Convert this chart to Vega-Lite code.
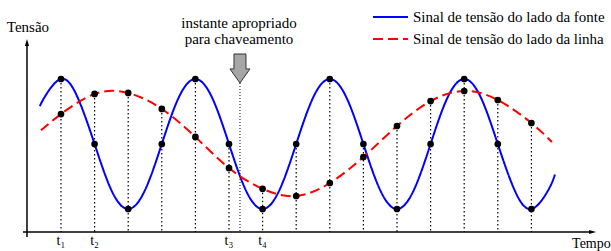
{
  "$schema": "https://vega.github.io/schema/vega-lite/v6.json",
  "width": 611,
  "height": 251,
  "padding": 0,
  "autosize": {"type": "none"},
  "background": "white",
  "config": {"view": {"stroke": null}, "font": "Liberation Serif", "text": {"font": "Liberation Serif", "fontSize": 15, "color": "black"}},
  "datasets": {
    "samples": [
      {"t": 0, "fonte": 1, "linha": 0.46},
      {"t": 1, "fonte": 0, "linha": 0.77},
      {"t": 2, "fonte": -1, "linha": 0.785},
      {"t": 3, "fonte": 0, "linha": 0.54},
      {"t": 4, "fonte": 1, "linha": 0.108},
      {"t": 5, "fonte": 0, "linha": -0.37},
      {"t": 6, "fonte": -1, "linha": -0.69},
      {"t": 7, "fonte": 0, "linha": -0.8},
      {"t": 8, "fonte": 1, "linha": -0.6},
      {"t": 9, "fonte": 0, "linha": -0.2},
      {"t": 10, "fonte": -1, "linha": 0.277},
      {"t": 11, "fonte": 0, "linha": 0.66},
      {"t": 12, "fonte": 1, "linha": 0.815},
      {"t": 13, "fonte": 0, "linha": 0.677},
      {"t": 14, "fonte": -1, "linha": 0.323}
    ],
    "curves": [
      {"serie": "fonte", "t": -0.625, "v": 0.58},
      {"serie": "fonte", "t": -0.5, "v": 0.71},
      {"serie": "fonte", "t": 0, "v": 1},
      {"serie": "fonte", "t": 0.5, "v": 0.71},
      {"serie": "fonte", "t": 1, "v": 0},
      {"serie": "fonte", "t": 1.5, "v": -0.71},
      {"serie": "fonte", "t": 2, "v": -1},
      {"serie": "fonte", "t": 2.5, "v": -0.71},
      {"serie": "fonte", "t": 3, "v": 0},
      {"serie": "fonte", "t": 3.5, "v": 0.71},
      {"serie": "fonte", "t": 4, "v": 1},
      {"serie": "fonte", "t": 4.5, "v": 0.71},
      {"serie": "fonte", "t": 5, "v": 0},
      {"serie": "fonte", "t": 5.5, "v": -0.71},
      {"serie": "fonte", "t": 6, "v": -1},
      {"serie": "fonte", "t": 6.5, "v": -0.71},
      {"serie": "fonte", "t": 7, "v": 0},
      {"serie": "fonte", "t": 7.5, "v": 0.71},
      {"serie": "fonte", "t": 8, "v": 1},
      {"serie": "fonte", "t": 8.5, "v": 0.71},
      {"serie": "fonte", "t": 9, "v": 0},
      {"serie": "fonte", "t": 9.5, "v": -0.71},
      {"serie": "fonte", "t": 10, "v": -1},
      {"serie": "fonte", "t": 10.5, "v": -0.71},
      {"serie": "fonte", "t": 11, "v": 0},
      {"serie": "fonte", "t": 11.5, "v": 0.71},
      {"serie": "fonte", "t": 12, "v": 1},
      {"serie": "fonte", "t": 12.5, "v": 0.71},
      {"serie": "fonte", "t": 13, "v": 0},
      {"serie": "fonte", "t": 13.5, "v": -0.71},
      {"serie": "fonte", "t": 14, "v": -1},
      {"serie": "fonte", "t": 14.5, "v": -0.71},
      {"serie": "fonte", "t": 14.7, "v": -0.47},
      {"serie": "linha", "t": -0.595, "v": 0.21},
      {"serie": "linha", "t": 0, "v": 0.46},
      {"serie": "linha", "t": 1, "v": 0.77},
      {"serie": "linha", "t": 2, "v": 0.785},
      {"serie": "linha", "t": 3, "v": 0.54},
      {"serie": "linha", "t": 4, "v": 0.108},
      {"serie": "linha", "t": 5, "v": -0.37},
      {"serie": "linha", "t": 6, "v": -0.69},
      {"serie": "linha", "t": 7, "v": -0.8},
      {"serie": "linha", "t": 8, "v": -0.6},
      {"serie": "linha", "t": 9, "v": -0.2},
      {"serie": "linha", "t": 10, "v": 0.277},
      {"serie": "linha", "t": 11, "v": 0.66},
      {"serie": "linha", "t": 12, "v": 0.815},
      {"serie": "linha", "t": 13, "v": 0.677},
      {"serie": "linha", "t": 14, "v": 0.323},
      {"serie": "linha", "t": 14.61, "v": 0.03}
    ],
    "eixos": [
      {"t1": -1.012, "t2": -1.012, "v1": -1.431, "v2": 1.56},
      {"t1": -1.131, "t2": 15.8, "v1": -1.354, "v2": -1.354}
    ],
    "legenda": [
      {"serie": "fonte", "t1": 9.286, "t2": 10.327, "v": 1.954, "texto": "Sinal de tensão do lado da fonte"},
      {"serie": "linha", "t1": 9.286, "t2": 10.327, "v": 1.615, "texto": "Sinal de tensão do lado da linha"}
    ],
    "centrados": [
      {"t": 5.298, "v": 1.862, "texto": "instante apropriado"},
      {"t": 5.298, "v": 1.615, "texto": "para chaveamento"},
      {"t": -0.982, "v": 1.8, "texto": "Tensão"}
    ],
    "instantes": [
      {"t": 0, "texto": "t₁"},
      {"t": 1, "texto": "t₂"},
      {"t": 5, "texto": "t₃"},
      {"t": 6, "texto": "t₄"}
    ]
  },
  "layer": [
    {
      "data": {"name": "eixos"},
      "mark": {"type": "rule", "color": "black", "strokeWidth": 1.5},
      "encoding": {
        "x": {"field": "t1", "type": "quantitative", "scale": {"domain": [-1.815, 16.369], "nice": false, "zero": false}, "axis": null},
        "x2": {"field": "t2"},
        "y": {"field": "v1", "type": "quantitative", "scale": {"domain": [-1.646, 2.215], "nice": false, "zero": false}, "axis": null},
        "y2": {"field": "v2"}
      }
    },
    {
      "data": {"values": [{"t": -1.012, "v": 1.562}]},
      "mark": {"type": "point", "shape": "M 0 -1 L 0.6 1 L -0.6 1 Z", "size": 49, "filled": true, "color": "black", "opacity": 1},
      "encoding": {
        "x": {"field": "t", "type": "quantitative", "scale": {"domain": [-1.815, 16.369], "nice": false, "zero": false}, "axis": null},
        "y": {"field": "v", "type": "quantitative", "scale": {"domain": [-1.646, 2.215], "nice": false, "zero": false}, "axis": null}
      }
    },
    {
      "data": {"values": [{"t": 15.82, "v": -1.354}]},
      "mark": {"type": "point", "shape": "M 1 0 L -1 0.6 L -1 -0.6 Z", "size": 49, "filled": true, "color": "black", "opacity": 1},
      "encoding": {
        "x": {"field": "t", "type": "quantitative", "scale": {"domain": [-1.815, 16.369], "nice": false, "zero": false}, "axis": null},
        "y": {"field": "v", "type": "quantitative", "scale": {"domain": [-1.646, 2.215], "nice": false, "zero": false}, "axis": null}
      }
    },
    {
      "data": {"name": "samples"},
      "transform": [{"fold": ["fonte", "linha"], "as": ["serie", "v"]}],
      "mark": {"type": "rule", "color": "black", "strokeWidth": 1.2, "strokeDash": [1.5, 2.5]},
      "encoding": {
        "x": {"field": "t", "type": "quantitative", "scale": {"domain": [-1.815, 16.369], "nice": false, "zero": false}, "axis": null},
        "y": {"aggregate": "max", "field": "v", "type": "quantitative", "scale": {"domain": [-1.646, 2.215], "nice": false, "zero": false}, "axis": null},
        "y2": {"datum": -1.354}
      }
    },
    {
      "data": {"values": [{"t": 5.327, "v1": 0.938, "v2": -1.354}]},
      "mark": {"type": "rule", "color": "black", "strokeWidth": 1, "strokeDash": [1, 2]},
      "encoding": {
        "x": {"field": "t", "type": "quantitative", "scale": {"domain": [-1.815, 16.369], "nice": false, "zero": false}, "axis": null},
        "y": {"field": "v1", "type": "quantitative", "scale": {"domain": [-1.646, 2.215], "nice": false, "zero": false}, "axis": null},
        "y2": {"field": "v2"}
      }
    },
    {
      "data": {"name": "curves"},
      "mark": {"type": "line", "interpolate": "natural", "strokeWidth": 2},
      "encoding": {
        "x": {"field": "t", "type": "quantitative", "scale": {"domain": [-1.815, 16.369], "nice": false, "zero": false}, "axis": null},
        "y": {"field": "v", "type": "quantitative", "scale": {"domain": [-1.646, 2.215], "nice": false, "zero": false}, "axis": null},
        "color": {"field": "serie", "type": "nominal", "scale": {"domain": ["fonte", "linha"], "range": ["#0000ff", "#ff0000"]}, "legend": null},
        "strokeDash": {"field": "serie", "type": "nominal", "scale": {"domain": ["fonte", "linha"], "range": [[1, 0], [10, 5]]}, "legend": null}
      }
    },
    {
      "data": {"name": "samples"},
      "transform": [{"fold": ["fonte", "linha"], "as": ["serie", "v"]}],
      "mark": {"type": "circle", "size": 45, "color": "black", "opacity": 1},
      "encoding": {
        "x": {"field": "t", "type": "quantitative", "scale": {"domain": [-1.815, 16.369], "nice": false, "zero": false}, "axis": null},
        "y": {"field": "v", "type": "quantitative", "scale": {"domain": [-1.646, 2.215], "nice": false, "zero": false}, "axis": null}
      }
    },
    {
      "data": {"values": [{"t": 5.327, "v": 1.1615}]},
      "mark": {"type": "point", "shape": "M -0.414 -1 L 0.414 -1 L 0.414 0.03 L 0.69 0.03 L 0 1 L -0.69 0.03 L -0.414 0.03 Z", "size": 841, "filled": true, "fill": "#a6a6a6", "stroke": "#333333", "strokeWidth": 1, "opacity": 1},
      "encoding": {
        "x": {"field": "t", "type": "quantitative", "scale": {"domain": [-1.815, 16.369], "nice": false, "zero": false}, "axis": null},
        "y": {"field": "v", "type": "quantitative", "scale": {"domain": [-1.646, 2.215], "nice": false, "zero": false}, "axis": null}
      }
    },
    {
      "data": {"name": "legenda"},
      "mark": {"type": "rule", "strokeWidth": 2},
      "encoding": {
        "x": {"field": "t1", "type": "quantitative", "scale": {"domain": [-1.815, 16.369], "nice": false, "zero": false}, "axis": null},
        "x2": {"field": "t2"},
        "y": {"field": "v", "type": "quantitative", "scale": {"domain": [-1.646, 2.215], "nice": false, "zero": false}, "axis": null},
        "color": {"field": "serie", "type": "nominal", "scale": {"domain": ["fonte", "linha"], "range": ["#0000ff", "#ff0000"]}, "legend": null},
        "strokeDash": {"field": "serie", "type": "nominal", "scale": {"domain": ["fonte", "linha"], "range": [[1, 0], [10, 5]]}, "legend": null}
      }
    },
    {
      "data": {"name": "legenda"},
      "mark": {"type": "text", "align": "left", "baseline": "middle", "font": "Liberation Serif", "fontSize": 15},
      "encoding": {
        "x": {"datum": 10.476, "type": "quantitative", "scale": {"domain": [-1.815, 16.369], "nice": false, "zero": false}, "axis": null},
        "y": {"field": "v", "type": "quantitative", "scale": {"domain": [-1.646, 2.215], "nice": false, "zero": false}, "axis": null},
        "text": {"field": "texto"}
      }
    },
    {
      "data": {"name": "centrados"},
      "mark": {"type": "text", "align": "center", "baseline": "middle", "font": "Liberation Serif", "fontSize": 15},
      "encoding": {
        "x": {"field": "t", "type": "quantitative", "scale": {"domain": [-1.815, 16.369], "nice": false, "zero": false}, "axis": null},
        "y": {"field": "v", "type": "quantitative", "scale": {"domain": [-1.646, 2.215], "nice": false, "zero": false}, "axis": null},
        "text": {"field": "texto"}
      }
    },
    {
      "data": {"values": [{"t": 15.21, "v": -1.538, "texto": "Tempo"}]},
      "mark": {"type": "text", "align": "left", "baseline": "middle", "font": "Liberation Serif", "fontSize": 14},
      "encoding": {
        "x": {"field": "t", "type": "quantitative", "scale": {"domain": [-1.815, 16.369], "nice": false, "zero": false}, "axis": null},
        "y": {"field": "v", "type": "quantitative", "scale": {"domain": [-1.646, 2.215], "nice": false, "zero": false}, "axis": null},
        "text": {"field": "texto"}
      }
    },
    {
      "data": {"name": "instantes"},
      "mark": {"type": "text", "align": "center", "baseline": "middle", "font": "Liberation Serif", "fontSize": 14},
      "encoding": {
        "x": {"field": "t", "type": "quantitative", "scale": {"domain": [-1.815, 16.369], "nice": false, "zero": false}, "axis": null},
        "y": {"datum": -1.492, "type": "quantitative", "scale": {"domain": [-1.646, 2.215], "nice": false, "zero": false}, "axis": null},
        "text": {"field": "texto"}
      }
    }
  ]
}
